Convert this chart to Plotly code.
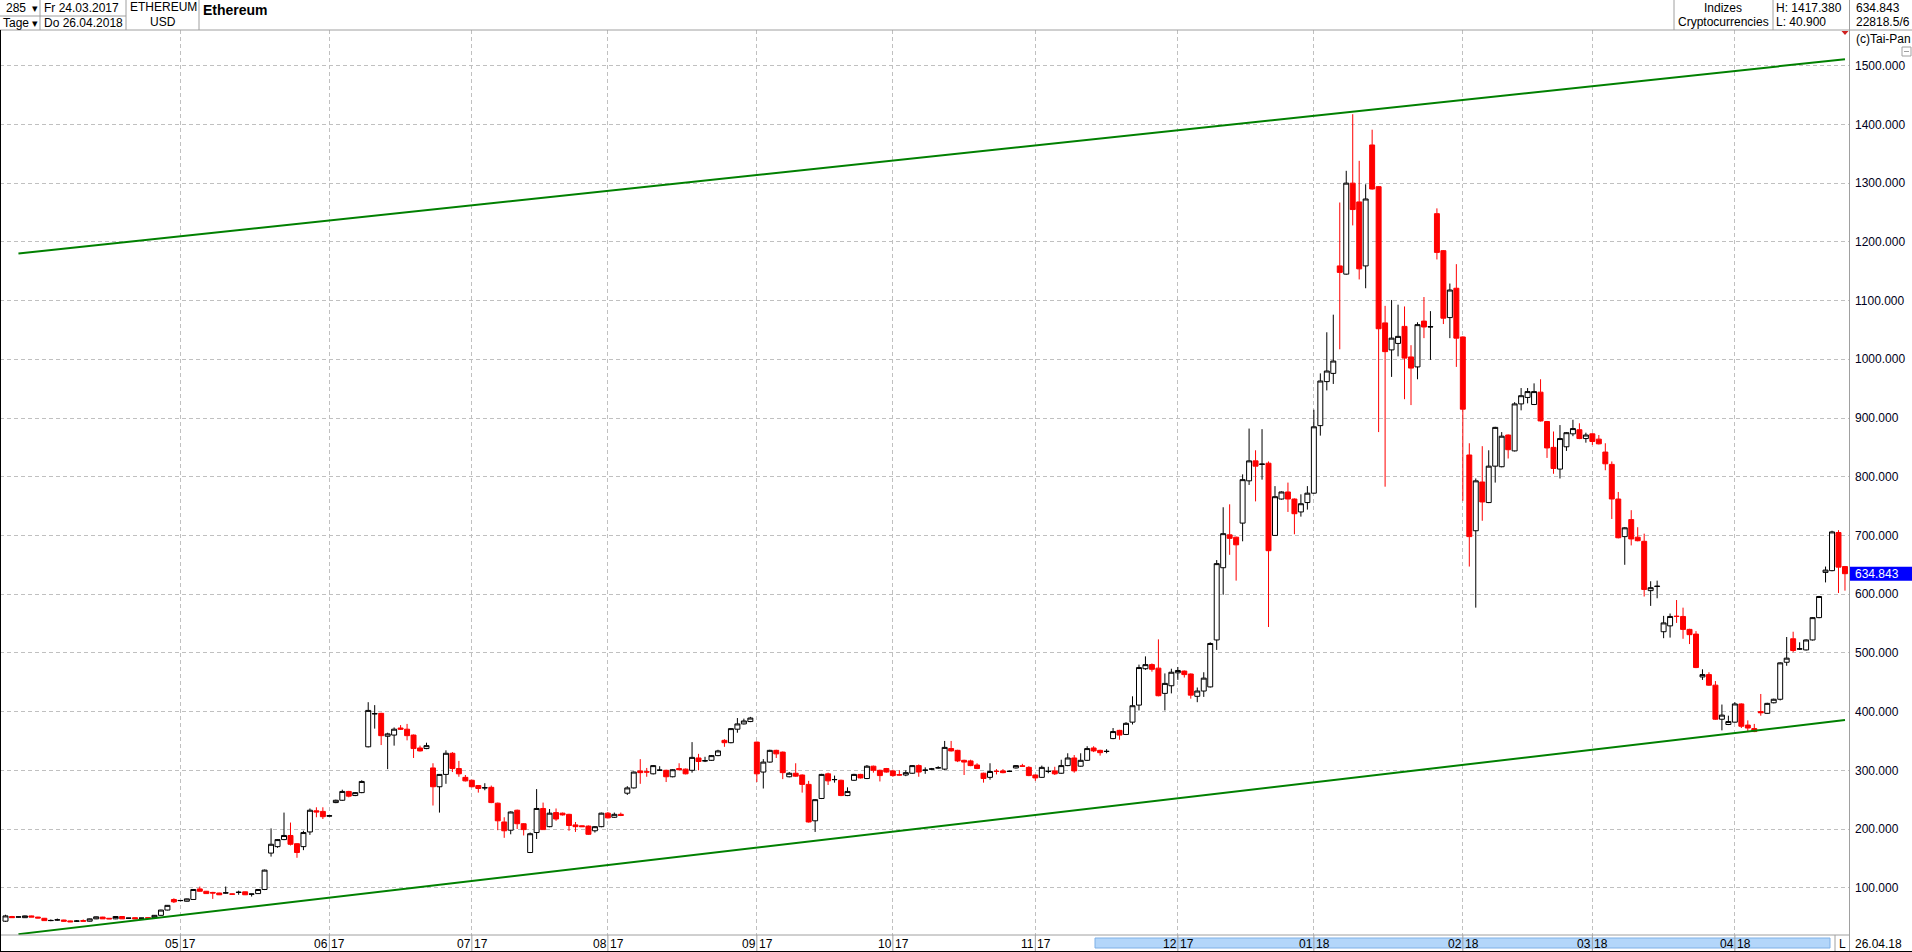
import plotly.graph_objects as go

# ---------------- data ----------------
open_ = [
    43, 51, 50, 49, 52, 50, 48, 44, 45, 45,
    43.5, 43, 44, 43, 47, 50, 48, 47, 51, 48,
    49, 48, 49, 49, 53, 62, 80, 78, 77, 80,
    98, 94, 92, 91, 91, 89.5, 92, 93, 89, 90,
    97, 159, 170, 182, 189, 175, 170, 195, 231, 230,
    222, 245, 249, 264, 257, 262, 340, 396, 397, 358,
    360, 372, 370, 360, 338, 337, 304, 272, 293, 329,
    303, 288, 283, 274, 270, 271, 244, 212, 198, 232,
    209, 160, 194, 235, 204, 228, 227, 225, 207, 205.5,
    205, 197, 204, 227, 220, 225, 261, 270, 299, 297.5,
    294, 300, 300, 289, 303, 302, 300, 321, 316, 317,
    325, 351, 347, 370, 379, 383, 348, 297, 314, 334,
    331, 289, 295, 292, 276, 214, 252, 294, 284, 283,
    257, 283, 293, 286, 307, 300, 303, 299, 292.5, 292,
    295, 308, 300, 302, 304, 302, 337, 334, 317, 316,
    309, 295, 288, 298.5, 299, 298, 304, 307.5, 305, 292,
    288, 298, 299, 295, 308, 321, 307, 317, 338, 334,
    332, 354, 368, 361, 382, 411, 473, 480, 474, 431,
    444, 466, 469, 464, 426, 435, 442, 522, 645, 701,
    697, 721, 793, 827, 821, 823, 700, 762, 774, 762,
    740, 756, 772, 887, 962, 976, 1159, 1145, 1300, 1268,
    1159, 1365, 1294, 1062, 1016, 1027, 1056, 1004, 987, 1065,
    1055, 1248, 1185, 1071, 1121, 1038, 837, 708, 791, 756,
    818, 817, 871, 844, 924, 935, 923, 944, 894, 850,
    813, 851, 873, 880, 865, 873, 864, 842, 821, 762,
    698, 727, 697, 690, 606, 613, 536, 546, 562.5, 562,
    540, 532, 459, 463, 445, 387, 378, 382, 413, 377,
    371, 400, 397, 415, 421, 484, 524, 506.5, 505, 522,
    560, 637, 640, 705, 647,
]
high = [
    54, 52, 50.5, 52.5, 52.5, 50.5, 48.5, 46, 47.5, 45.5,
    44, 45, 46, 47.5, 51, 50.5, 48.5, 51.5, 51.5, 48.5,
    49.5, 48.5, 49.5, 53.5, 62.5, 70.5, 82, 79, 81.5, 97.5,
    102, 94.5, 93, 91.5, 102, 90, 95, 93.5, 89.5, 97.5,
    131, 201, 183, 228, 211, 176, 197, 235, 237, 237,
    223.5, 250, 267, 265, 263, 283, 416, 411, 398, 364,
    373, 377, 379, 361, 342, 347, 312, 293.5, 334, 331,
    316, 292, 284, 275, 278, 274, 245, 220, 230, 233,
    210, 194, 268, 245, 234, 235, 228, 226, 212, 206,
    206, 205, 228, 229, 228, 228, 273, 298, 319, 304,
    309, 307, 301, 302, 312, 303, 348, 328, 323, 326,
    335, 353, 372, 389, 388, 391, 349, 319, 335, 335,
    332, 297, 312, 293, 282, 251, 294, 296, 291, 284,
    271, 294, 294, 309, 308, 301, 304, 301, 300, 300,
    309, 310, 305, 304, 307, 350, 350, 335, 318, 318,
    312, 296, 312, 302, 302, 299.5, 309, 311, 307, 293,
    308, 306, 306, 318, 329, 326, 329, 341, 341, 335,
    336, 372, 369, 382, 426, 480, 494, 482, 523, 465,
    473, 476, 470, 465, 441, 467, 518, 658, 748, 753,
    698, 804, 882, 845, 881, 826, 784, 775, 790, 763,
    770, 784, 914, 976, 1046, 1076, 1267, 1321, 1417.38, 1338,
    1298, 1391, 1295, 1091, 1101, 1093, 1090, 1024, 1063, 1106,
    1082, 1257, 1186, 1129, 1162, 1039, 857, 797, 852, 845,
    885, 876, 872, 927, 951, 951, 959, 966, 895, 877,
    888, 876, 897, 891, 875, 874, 871, 857, 826, 774,
    714, 743, 714, 703, 622, 623, 563, 567, 590, 577,
    541, 537, 472, 467, 452, 412, 393, 416, 414, 385,
    379, 430, 415, 422, 484, 527, 536, 518, 523, 561,
    597, 647, 708, 709, 648,
]
low = [
    42, 49, 49.5, 48.5, 50, 48, 44, 43, 44, 42.5,
    41.5, 42, 43, 42.5, 46.5, 47, 46.5, 46.5, 47, 47.5,
    46.5, 47.5, 48, 48.5, 52.5, 61.5, 74, 77, 76.5, 79.5,
    93.5, 89.5, 81, 87.5, 90, 88, 88, 87.5, 85, 89.5,
    96, 153, 168, 181, 172, 151, 164, 190, 220, 217,
    221.5, 244, 248, 254, 256, 261, 339, 371, 343, 302,
    342, 369, 351, 321, 332, 336, 240, 228, 277, 297,
    289, 281, 271, 262, 266, 244, 198, 185, 191, 200,
    189, 159, 183, 199, 203, 214, 223, 197, 195, 203.5,
    190, 194, 203, 218, 219, 222, 258, 269, 277, 289,
    293, 299, 280, 288, 300, 293, 296, 300, 314, 316,
    324, 340, 346, 364, 378, 382, 280, 269, 313, 321,
    285, 288, 289, 262, 211, 195, 251, 275, 279, 256,
    256, 282, 286, 285, 296, 281, 296, 289, 291, 290,
    294, 289, 294, 301, 303, 300, 332, 314, 292, 307,
    302, 279, 284, 293, 295, 297, 303, 306, 290, 282,
    287, 295, 292, 294, 307, 296, 306, 316, 331, 325,
    329, 353, 352, 360, 378, 402, 471, 468, 426, 402,
    431, 454, 458, 422, 416, 425, 441, 505, 599, 667,
    623, 690, 786, 758, 795, 544, 699, 761, 740, 702,
    732, 744, 771, 870, 947, 958, 1017, 1144, 1228, 1136,
    1121, 1289, 876, 783, 970, 1005, 932, 922, 966, 1036,
    999, 1170, 1060, 1036, 987, 759, 647, 577, 725, 755,
    790, 816, 831, 843, 913, 925, 922, 894, 832, 805,
    797, 844, 869, 864, 858, 854, 855, 811, 728, 695,
    650, 683, 690, 596, 580, 593, 525, 526, 551, 524,
    515, 474, 454, 444, 386, 368, 377, 381, 372, 367,
    365, 393, 396, 414, 419, 478, 501, 505, 504, 521,
    559, 620, 639, 602, 606,
]
close = [
    52, 49, 50.3, 52, 50, 48.5, 44, 44.3, 45.3, 43,
    42, 43.3, 43, 47, 50.5, 47, 47, 51, 47, 48.3,
    47, 48.3, 48, 53, 62, 70, 76, 78.3, 81, 97,
    94, 90, 91, 88, 91.3, 89, 92.3, 88, 89.3, 97,
    130, 174, 182, 189, 174, 160, 194, 232, 229, 221,
    222.5, 249, 264, 256, 262, 281, 402, 396.5, 359, 362,
    370, 370, 359, 337, 333, 342, 272, 293, 329, 303,
    294, 282, 272, 269, 270.3, 245, 214, 197, 229, 209,
    199, 192, 235, 199, 227, 217, 224, 206, 204, 204,
    191, 204, 227, 219, 225, 223, 270, 297, 296, 297,
    308, 300.3, 289, 301, 301, 294, 322, 315, 316.3, 325,
    333, 347, 371, 379, 384, 389, 294, 314, 334, 328,
    296, 295, 290, 276, 212, 250, 293, 282, 284.3, 257,
    264, 293, 287, 307, 300, 291, 297, 291, 292, 296,
    308, 297, 300.3, 302.3, 304.3, 339, 333, 316, 314, 308,
    303, 286, 298, 298, 296, 298.3, 308, 307, 291, 287,
    305, 298.3, 294, 308, 321, 299, 317, 337, 333, 330,
    332.3, 366, 360, 380, 410, 475, 480, 472, 427, 448,
    467, 470, 463, 428, 435, 457, 516, 652, 703, 695,
    684, 795, 827, 818, 821.5, 674, 766, 774, 762, 737,
    754, 772, 885, 963, 980, 997, 1148, 1300, 1255, 1154,
    1273, 1290, 1052, 1013, 1036, 1039, 1002, 985, 1059, 1055,
    1055.5, 1182, 1070, 1118, 1036, 915, 698, 793, 757, 818,
    884, 869, 846, 924, 938, 945, 945, 895, 849, 814,
    865, 875, 882, 865, 871, 860, 856, 822, 762, 696,
    713, 694, 691, 608, 611, 613.5, 551, 562, 562, 540,
    531, 475, 463, 445, 387, 394, 383, 413, 375, 372,
    366, 398, 414, 421, 483, 491, 504, 506.8, 522, 560,
    596, 641, 706, 646, 634.843,
]

month_pos = [27, 50, 72, 93, 116, 137, 159, 181, 202, 225, 245, 267]
month_lbl = ["05", "06", "07", "08", "09", "10", "11", "12", "01", "02", "03", "04"]
year_lbl = ["17", "17", "17", "17", "17", "17", "17", "17", "18", "18", "18", "18"]

ytick_vals = [100, 200, 300, 400, 500, 600, 700, 800, 900, 1000, 1100, 1200, 1300, 1400, 1500]

trend_x = [2, 284]
upper_trend = [1180, 1511]
lower_trend = [21, 385.5]

last_price = 634.843

# ---------------- geometry helpers ----------------
W, H = 1912, 952
PX0, PX1, PY0, PY1 = 0, 1849, 30, 935   # plot area in pixels
FONT = "Liberation Sans, Arial, sans-serif"
GRAY = "#a0a0a0"


def fx(X):
    return (X - PX0) / (PX1 - PX0)


def fy(Y):
    return (PY1 - Y) / (PY1 - PY0)


n = len(open_)
assert len(high) == n and len(low) == n and len(close) == n
bars = list(range(n))

fig = go.Figure()
fig.add_trace(go.Candlestick(
    x=bars, open=open_, high=high, low=low, close=close,
    increasing=dict(line=dict(color="#000000", width=1), fillcolor="#ffffff"),
    decreasing=dict(line=dict(color="#ff0000", width=1), fillcolor="#ff0000"),
    whiskerwidth=0, showlegend=False, hoverinfo="skip",
))
for ty in (upper_trend, lower_trend):
    fig.add_trace(go.Scatter(x=trend_x, y=ty, mode="lines",
                             line=dict(color="#008000", width=2),
                             showlegend=False, hoverinfo="skip"))

shapes = []


def line(x0, y0, x1, y1, color=GRAY, width=1, xref="paper", yref="paper"):
    shapes.append(dict(type="line", xref=xref, yref=yref, x0=x0, y0=y0, x1=x1, y1=y1,
                       line=dict(color=color, width=width), layer="above"))


# header
line(fx(0), fy(30), fx(1912), fy(30))
for X in (40, 126, 199, 1674, 1773):
    line(fx(X), fy(0), fx(X), fy(30))
line(fx(0), fy(16), fx(126), fy(16))
# right axis line
line(fx(1849.5), fy(0), fx(1849.5), fy(952))
# bottom axis line
line(fx(0), fy(935), fx(1849), fy(935))
# outer black borders
line(fx(0.5), fy(30), fx(0.5), fy(952), color="#000000")
line(fx(0), fy(951.5), fx(1912), fy(951.5), color="#000000")
# blue scroll bar in date strip
shapes.append(dict(type="rect", xref="paper", yref="paper",
                   x0=fx(1095), x1=fx(1830), y0=fy(948), y1=fy(938),
                   fillcolor="#b3d6fa", line=dict(color="#7fb0e6", width=1), layer="above"))
# month separators in date strip
for mp in month_pos:
    line(mp, fy(951), mp, fy(935), xref="x")
line(fx(1835), fy(951), fx(1835), fy(935))
# current price box
shapes.append(dict(type="rect", xref="paper", yref="y",
                   x0=fx(1850), x1=fx(1912), y0=last_price - 12, y1=last_price + 12,
                   fillcolor="#0000ff", line=dict(width=0), layer="above"))
# red marker triangle
shapes.append(dict(type="path", xref="paper", yref="paper",
                   path="M {a},{b} L {c},{b} L {d},{e} Z".format(
                       a=fx(1841.5), b=fy(31), c=fx(1848.5), d=fx(1845), e=fy(35)),
                   fillcolor="#d02020", line=dict(width=0), layer="above"))
# small minus box
shapes.append(dict(type="rect", xref="paper", yref="paper",
                   x0=fx(1902), x1=fx(1911), y0=fy(56), y1=fy(47),
                   fillcolor="#ffffff", line=dict(color=GRAY, width=1), layer="above"))
line(fx(1904), fy(51.5), fx(1909), fy(51.5))

ann = []


def text(X, Y, s, anchor="left", size=12, color="#000000", bold=False):
    ann.append(dict(xref="paper", yref="paper", x=fx(X), y=fy(Y),
                    text=("<b>%s</b>" % s) if bold else s, showarrow=False,
                    xanchor=anchor, yanchor="middle",
                    font=dict(family=FONT, size=size, color=color)))


# header texts
text(4, 8, "285")
text(30, 8, "▾", size=11)
text(1, 23, "Tage")
text(30, 23, "▾", size=11)
text(42, 8, "Fr 24.03.2017")
text(42, 23, "Do 26.04.2018")
text(163, 7, "ETHEREUM", anchor="center")
text(163, 22, "USD", anchor="center")
text(201, 10, "Ethereum", size=14, bold=True)
text(1723, 8, "Indizes", anchor="center")
text(1723, 22, "Cryptocurrencies", anchor="center")
text(1774, 8, "H: 1417.380")
text(1774, 22, "L: 40.900")
text(1854, 8, "634.843")
text(1854, 22, "22818.5/6")
text(1854, 39, "(c)Tai-Pan")
# date strip
for mp, ml, yl in zip(month_pos, month_lbl, year_lbl):
    ann.append(dict(xref="x", yref="paper", x=mp, y=fy(943.5), text=ml, showarrow=False,
                    xanchor="right", yanchor="middle", xshift=1,
                    font=dict(family=FONT, size=12, color="#000000")))
    ann.append(dict(xref="x", yref="paper", x=mp, y=fy(943.5), text=yl, showarrow=False,
                    xanchor="left", yanchor="middle", xshift=0,
                    font=dict(family=FONT, size=12, color="#000000")))
text(1842, 943.5, "L", anchor="center")
text(1853, 943.5, "26.04.18")
# price label
ann.append(dict(xref="paper", yref="y", x=fx(1853), y=last_price, text="%.3f" % last_price,
                showarrow=False, xanchor="left", yanchor="middle",
                font=dict(family=FONT, size=12, color="#ffffff")))

x_lo = -(5.5 - PX0) / 6.477
x_hi = x_lo + (PX1 - PX0) / 6.477

fig.update_layout(
    width=W, height=H, autosize=False,
    margin=dict(l=PX0, r=W - PX1, t=PY0, b=H - PY1, pad=0),
    paper_bgcolor="#ffffff", plot_bgcolor="#ffffff",
    boxgap=0.15, boxgroupgap=0.1,
    shapes=shapes, annotations=ann,
    font=dict(family=FONT, size=12, color="#000000"),
    xaxis=dict(range=[x_lo, x_hi], tickvals=month_pos, showticklabels=False,
               showgrid=True, gridcolor="#c0c0c0", griddash="4px,3px", gridwidth=1,
               zeroline=False, showline=False, ticks="", rangeslider=dict(visible=False),
               fixedrange=True),
    yaxis=dict(range=[19.5, 1560.8], tickvals=ytick_vals, tickformat=".3f", side="right",
               showgrid=True, gridcolor="#c0c0c0", griddash="4px,3px", gridwidth=1,
               zeroline=False, showline=False, ticks="", automargin=False,
               ticklabelstandoff=5,
               tickfont=dict(family=FONT, size=12, color="#000020"), fixedrange=True),
    hovermode=False,
)

fig.write_html(
    "out.html",
    config={"displayModeBar": False},
    post_script="document.body.style.margin='0';document.body.style.padding='0';"
                "document.body.style.overflow='hidden';",
)
